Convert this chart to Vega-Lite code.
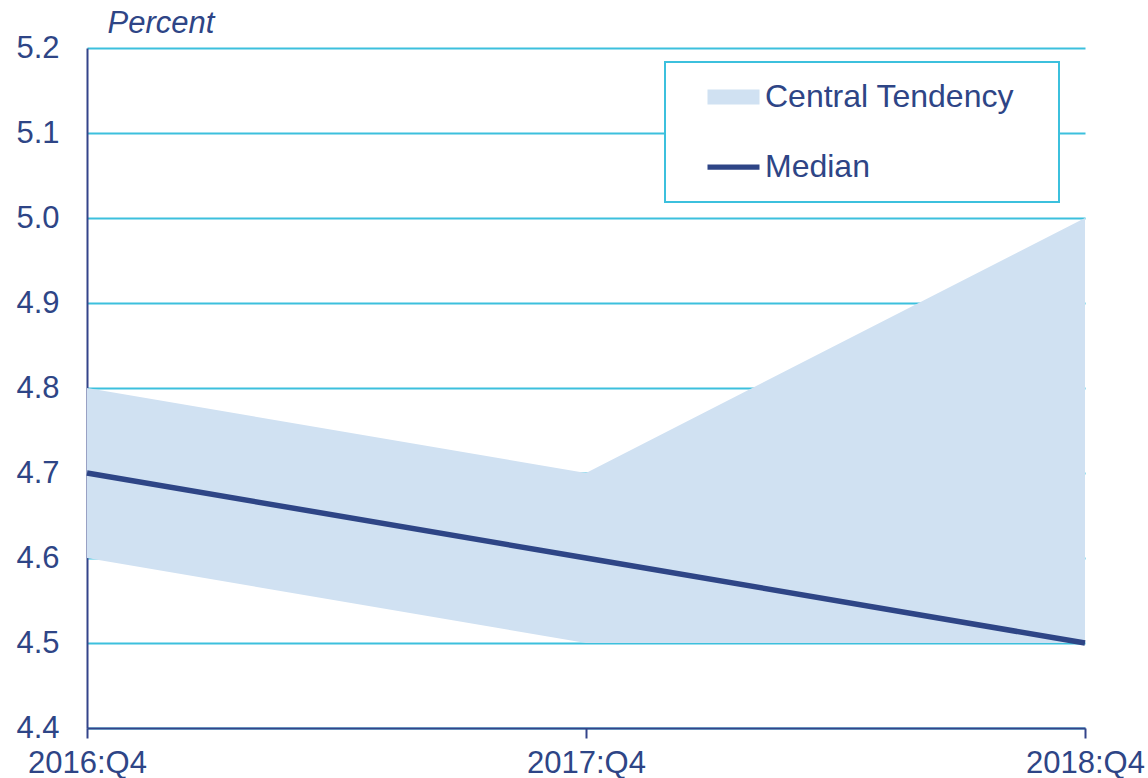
{
  "$schema": "https://vega.github.io/schema/vega-lite/v6.json",
  "width": 998,
  "height": 680,
  "autosize": {"type": "none"},
  "padding": {"left": 87, "top": 48, "right": 63, "bottom": 50},
  "background": "white",
  "config": {
    "view": {"stroke": null},
    "font": "Liberation Sans"
  },
  "data": {
    "values": [
      {"q": "2016:Q4", "lo": 4.6, "hi": 4.8, "med": 4.7},
      {"q": "2017:Q4", "lo": 4.5, "hi": 4.7, "med": 4.6},
      {"q": "2018:Q4", "lo": 4.5, "hi": 5.0, "med": 4.5}
    ]
  },
  "encoding": {
    "x": {
      "field": "q",
      "type": "ordinal",
      "scale": {"type": "point", "padding": 0},
      "axis": {
        "title": null,
        "labelAngle": 0,
        "labelFont": "Liberation Sans",
        "labelFontSize": 31,
        "labelColor": "#2E4586",
        "labelPadding": 10,
        "domainColor": "#34448A",
        "domainWidth": 2,
        "tickColor": "#34448A",
        "tickWidth": 2,
        "tickSize": 10,
        "grid": false
      }
    }
  },
  "layer": [
    {
      "mark": {"type": "area", "interpolate": "linear"},
      "encoding": {
        "y": {
          "field": "hi",
          "type": "quantitative",
          "scale": {"domain": [4.4, 5.2], "nice": false, "zero": false},
          "axis": {
            "values": [4.4, 4.5, 4.6, 4.7, 4.8, 4.9, 5.0, 5.1, 5.2],
            "format": ".1f",
            "grid": true,
            "gridColor": "#3CC0DD",
            "gridWidth": 2,
            "ticks": false,
            "tickSize": 0,
            "domainColor": "#34448A",
            "domainWidth": 2,
            "labelFont": "Liberation Sans",
            "labelFontSize": 31,
            "labelColor": "#2E4586",
            "labelPadding": 28,
            "title": "Percent",
            "titleFont": "Liberation Sans",
            "titleFontSize": 31,
            "titleFontStyle": "italic",
            "titleFontWeight": "normal",
            "titleColor": "#2E4586",
            "titleAngle": 0,
            "titleAlign": "left",
            "titleBaseline": "alphabetic",
            "titleX": 20,
            "titleY": -16
          }
        },
        "y2": {"field": "lo"},
        "color": {
          "datum": "Central Tendency",
          "type": "nominal",
          "scale": {"domain": ["Central Tendency", "Median"], "range": ["#D0E1F2", "#2E4586"]},
          "legend": {
            "title": null,
            "orient": "none",
            "legendX": 578,
            "legendY": 14,
            "padding": 19,
            "strokeColor": "#3CC0DD",
            "fillColor": "white",
            "labelFont": "Liberation Sans",
            "labelFontSize": 32,
            "labelColor": "#2E4586",
            "labelLimit": 600,
            "rowPadding": 38,
            "symbolSize": 225,
            "symbolOffset": 33.5,
            "labelOffset": 15.5,
            "labelExpr": "datum.label + '\u200a\u2800'",
            "encode": {
              "legend": {
                "update": {"strokeWidth": {"value": 2}}
              },
              "symbols": {
                "update": {
                  "shape": {"signal": "datum.value === 'Median' ? 'M-3.467,-0.35H3.467V0.35H-3.467Z' : 'M-3.467,-1H3.467V1H-3.467Z'"},
                  "fill": {"signal": "datum.value === 'Median' ? '#2E4586' : '#D0E1F2'"},
                  "stroke": {"value": "transparent"},
                  "strokeWidth": {"value": 0},
                  "opacity": {"value": 1}
                }
              }
            }
          }
        }
      }
    },
    {
      "mark": {"type": "line", "strokeWidth": 5.5, "strokeCap": "butt"},
      "encoding": {
        "y": {"field": "med", "type": "quantitative"},
        "color": {"datum": "Median", "type": "nominal"}
      }
    }
  ]
}
